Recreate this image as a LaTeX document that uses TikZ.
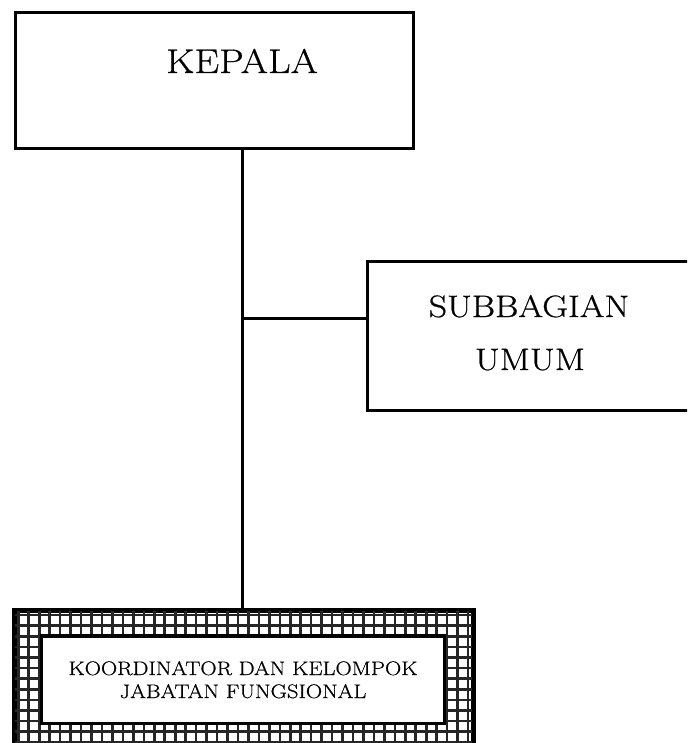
\documentclass[tikz,border=0pt]{standalone}
\usepackage{fontspec}
\setmainfont{Latin Modern Roman}[FakeStretch=1.15, FakeBold=0.6]
\begin{document}
\begin{tikzpicture}[x=1pt,y=-1pt,
  box/.style={draw=black, line width=3pt, fill=white, inner sep=0pt, anchor=north west},
  conn/.style={draw=black, line width=3pt},
  gridline/.style={draw=black!85, line width=2.6pt},
  lbl/.style={anchor=base, inner sep=0pt}]
\useasboundingbox (0,0) rectangle (687,743);
\clip (0,0) rectangle (687,743);
% KEPALA
\node[box, minimum width=398pt, minimum height=135.5pt] (kepala) at (14,11.5) {};
\node[lbl, font=\fontsize{34.2}{40}\selectfont] (kepalatxt) at (242,73) {KEPALA};
% SUBBAGIAN UMUM
\node[box, minimum width=400pt, minimum height=149pt] (subbag) at (366,260) {};
\node[lbl, font=\fontsize{31}{36}\selectfont] (subbagtxta) at (529,317) {SUBBAGIAN};
\node[lbl, font=\fontsize{31}{36}\selectfont] (subbagtxtb) at (530,370) {UMUM};
% KOORDINATOR (patterned frame)
\node[box, minimum width=457.5pt, minimum height=180pt] (koordouter) at (13.5,609.5) {};
\begin{scope}
  \clip (koordouter.north west) rectangle (koordouter.south east);
  \foreach \i in {0,...,44} {
    \draw[gridline] ({18.3+10.46*\i},600) -- ({18.3+10.46*\i},800);
  }
  \foreach \j in {0,...,18} {
    \draw[gridline] (0,{615+10.6*\j}) -- (500,{615+10.6*\j});
  }
\end{scope}
\draw[line width=3.5pt] (koordouter.north west) rectangle (koordouter.south east);
\node[box, line width=3.5pt, minimum width=403pt, minimum height=87.5pt] (koord) at (39.5,634) {};
\node[lbl, font=\fontsize{19.6}{24}\selectfont] (koordtxta) at (243,675) {KOORDINATOR DAN KELOMPOK};
\node[lbl, font=\fontsize{19.6}{24}\selectfont] (koordtxtb) at (243,698) {JABATAN FUNGSIONAL};
% connectors
\coordinate (junction) at (242.5,318);
\draw[conn] (kepala.south -| junction) -- (koordouter.north -| junction);
\draw[conn] (junction) -- (junction -| subbag.west);
\end{tikzpicture}
\end{document}
